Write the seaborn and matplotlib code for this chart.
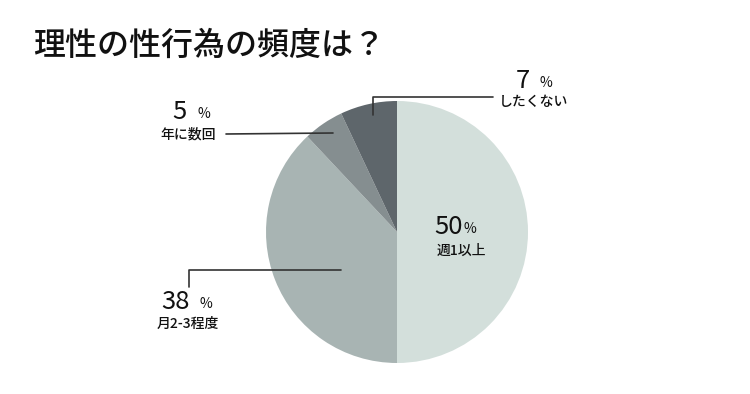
import matplotlib
matplotlib.use("Agg")
import matplotlib.pyplot as plt
import seaborn as sns

# data
labels = ["週1以上", "月2-3程度", "年に数回", "したくない"]
values = [50, 38, 5, 7]
colors = ["#d3dfdb", "#a8b4b3", "#858e90", "#5e666b"]

sns.set_theme(style="white")
plt.rcParams['font.family'] = ['Noto Sans CJK JP', 'DejaVu Sans']

fig = plt.figure(figsize=(7.5, 3.94), dpi=100)

# pie axes: center (397, 232), radius 131 px
cx, cy, r = 397, 232, 131
ax = fig.add_axes([(cx - r) / 750, (394 - cy - r) / 394, 2 * r / 750, 2 * r / 394])
ax.pie(values, colors=colors, startangle=90, counterclock=False,
       wedgeprops=dict(linewidth=0))
ax.set_xlim(-1, 1)
ax.set_ylim(-1, 1)
ax.set_aspect('auto')
ax.axis('off')

# overlay axes in pixel coordinates for text and leader lines
bg = fig.add_axes([0, 0, 1, 1])
bg.set_xlim(0, 750)
bg.set_ylim(394, 0)
bg.patch.set_alpha(0)
bg.set_zorder(3)
bg.axis('off')

bg.text(33, 46, "理性の性行為の頻度は？", fontsize=23, fontweight='medium',
        ha='left', va='center', color='#111111')

# label layout: (number x, number y, percent x, label center x, label y)
layout = {
    "週1以上": (434, 227, 464, 461, 251),
    "月2-3程度": (161, 302, 199, 188, 324),
    "年に数回": (172, 112, 197, 188, 134),
    "したくない": (516, 81, 539, 534, 102),
}
for lab, val in zip(labels, values):
    nx, ny, px, lx, ly = layout[lab]
    bg.text(nx, ny, f"{val}", fontsize=18.5, fontweight='normal', ha='left',
            va='center', color='#111111')
    bg.text(px, ny + 2, "%", fontsize=10, ha='left', va='center', color='#111111')
    bg.text(lx, ly, lab, fontsize=10, fontweight='medium', ha='center',
            va='center', color='#111111')

# leader lines
line_kw = dict(color='#333333', linewidth=1.2)
bg.plot([373, 373, 493], [115, 97, 97], **line_kw)
bg.plot([226, 333], [134, 133], **line_kw)
bg.plot([189, 189, 341], [287, 270, 270], **line_kw)

fig.savefig("out.png", dpi=100)
